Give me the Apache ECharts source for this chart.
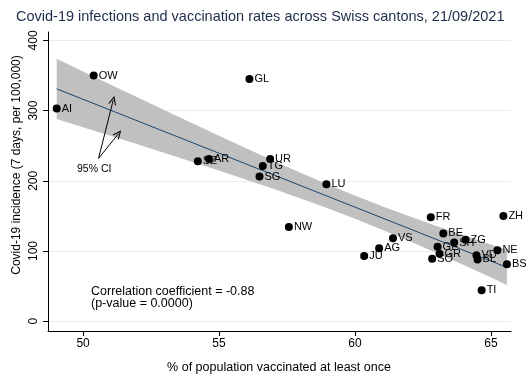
<!DOCTYPE html>
<html>
<head>
<meta charset="utf-8">
<script src="https://cdn.jsdelivr.net/npm/echarts@6/dist/echarts.min.js"></script>
<style>html,body{margin:0;padding:0;background:#fff}#c{width:528px;height:384px}</style>
</head>
<body>
<div id="c"></div>
<script>
// Cantons
var cantons = ['AI','OW','GL','SZ','AR','UR','TG','SG','LU','NW','FR','ZH','BE','VS','ZG','SH','AG','GE','NE','GR','VD','JU','BL','SO','BS','TI'];
// % vaccinated at least once
var vaccinated = [49.03,50.39,56.12,54.22,54.63,56.88,56.61,56.49,58.95,57.57,62.79,65.46,63.25,61.40,64.07,63.65,60.89,63.04,65.24,63.11,64.47,60.34,64.51,62.84,65.59,64.66];
// 7-day incidence per 100,000
var incidence = [303,350,345,228,231,231,221,206,195,134,148,150,125,118,116,112,104,106,101,96,94,93,88,89,81,44];
// Linear fit end points
var fitX = [49.03, 65.59];
var fitY = [331.0, 76.6];
// 95% CI band
var ciX = [49.03,50,51,52,53,54,55,56,57,58,59,60,61,62,63,64,65,65.59];
var ciLow = [288.0,276.3,264.1,251.9,239.5,227.1,214.5,201.6,188.5,174.9,160.9,146.0,130.4,114.2,97.3,79.9,62.1,51.5];
var ciHigh = [374.0,355.9,337.3,318.9,300.5,282.3,264.1,246.2,228.7,211.5,194.9,179.0,163.8,149.4,135.5,122.3,109.3,101.7];
// Ticks
var xTicks = [50,55,60,65];
var yTicks = [0,100,200,300,400];
// Arrow annotations (data coords)
var arrowFrom = [50.57, 232];
var arrowTo1 = [51.11, 315];
var arrowTo2 = [51.30, 267];

var FONT = "'Liberation Sans', Arial, sans-serif";
var chart = echarts.init(document.getElementById('c'), null, {renderer:'canvas'});

var scatterData = cantons.map(function(c,i){ return {name:c, value:[vaccinated[i], incidence[i]]}; });
var bandData = ciX.map(function(x,i){ return [x, ciLow[i], ciHigh[i]]; });
var fitData = fitX.map(function(x,i){ return [x, fitY[i]]; });

var openArrow = 'path://M0,0 L5,10 L3.6,10 L0,2.8 L-3.6,10 L-5,10 Z';

function renderBand(params, api){
  if (params.dataIndex !== 0) return null;
  var pts = [];
  for (var i = 0; i < bandData.length; i++) pts.push(api.coord([bandData[i][0], bandData[i][2]]));
  for (var j = bandData.length - 1; j >= 0; j--) pts.push(api.coord([bandData[j][0], bandData[j][1]]));
  return {type:'polygon', shape:{points:pts}, style:{fill:'#c0c0c0', stroke:null}};
}

chart.setOption({
  backgroundColor:'#ffffff',
  animation:false,
  title:{
    text:'Covid-19 infections and vaccination rates across Swiss cantons, 21/09/2021',
    left:11, top:4,
    textStyle:{fontFamily:FONT, fontSize:14.5, fontWeight:'normal', color:'#1e2b4a'}
  },
  grid:{left:48, right:17, top:32, bottom:53, containLabel:false},
  xAxis:{
    type:'value', min:48.71, max:65.74,
    axisLine:{show:true, onZero:false, lineStyle:{color:'#000', width:1}},
    axisTick:{show:true, length:5, lineStyle:{color:'#000'}, customValues:xTicks},
    axisLabel:{fontFamily:FONT, fontSize:12, color:'#000', margin:7, customValues:xTicks},
    splitLine:{show:false}
  },
  yAxis:{
    type:'value', min:-14, max:412,
    axisLine:{show:true, onZero:false, lineStyle:{color:'#000', width:1}},
    axisTick:{show:true, length:5, lineStyle:{color:'#000'}, customValues:yTicks},
    axisLabel:{fontFamily:FONT, fontSize:12, color:'#000', margin:8, rotate:90, customValues:yTicks},
    splitLine:{show:true, lineStyle:{color:'#e4eef0', width:1}}
  },
  graphic:[
    {type:'text', x:279, y:368, style:{text:'% of population vaccinated at least once', textAlign:'center', textVerticalAlign:'middle', font:'12.5px '+FONT, fill:'#000'}},
    {type:'text', rotation:Math.PI/2, x:17, y:165, style:{text:'Covid-19 incidence (7 days, per 100,000)', textAlign:'center', textVerticalAlign:'middle', font:'12px '+FONT, fill:'#000'}},
    {type:'text', x:91, y:292, style:{text:'Correlation coefficient = -0.88', textVerticalAlign:'middle', font:'12.5px '+FONT, fill:'#000'}},
    {type:'text', x:91, y:304, style:{text:'(p-value = 0.0000)', textVerticalAlign:'middle', font:'12.5px '+FONT, fill:'#000'}},
    {type:'text', x:77, y:169, style:{text:'95% CI', textVerticalAlign:'middle', font:'10.5px '+FONT, fill:'#000'}}
  ],
  series:[
    {type:'custom', name:'ci', data:bandData, renderItem:renderBand, encode:{x:0, y:[1,2]}, silent:true, clip:true, z:1},
    {type:'line', name:'fit', data:fitData, symbol:'none', lineStyle:{color:'#1a476f', width:1}, z:2,
      markLine:{silent:true, symbol:['none', openArrow], symbolSize:[8,9], label:{show:false},
        lineStyle:{color:'#000', width:1, type:'solid'},
        data:[[{coord:arrowFrom},{coord:arrowTo1}],[{coord:arrowFrom},{coord:arrowTo2}]]}
    },
    {type:'scatter', data:scatterData, symbol:'circle', symbolSize:8, itemStyle:{color:'#000', opacity:1}, z:3,
      label:{show:true, position:'right', distance:1, formatter:'{b}', fontFamily:FONT, fontSize:11, color:'#000'}}
  ]
});
</script>
</body>
</html>
